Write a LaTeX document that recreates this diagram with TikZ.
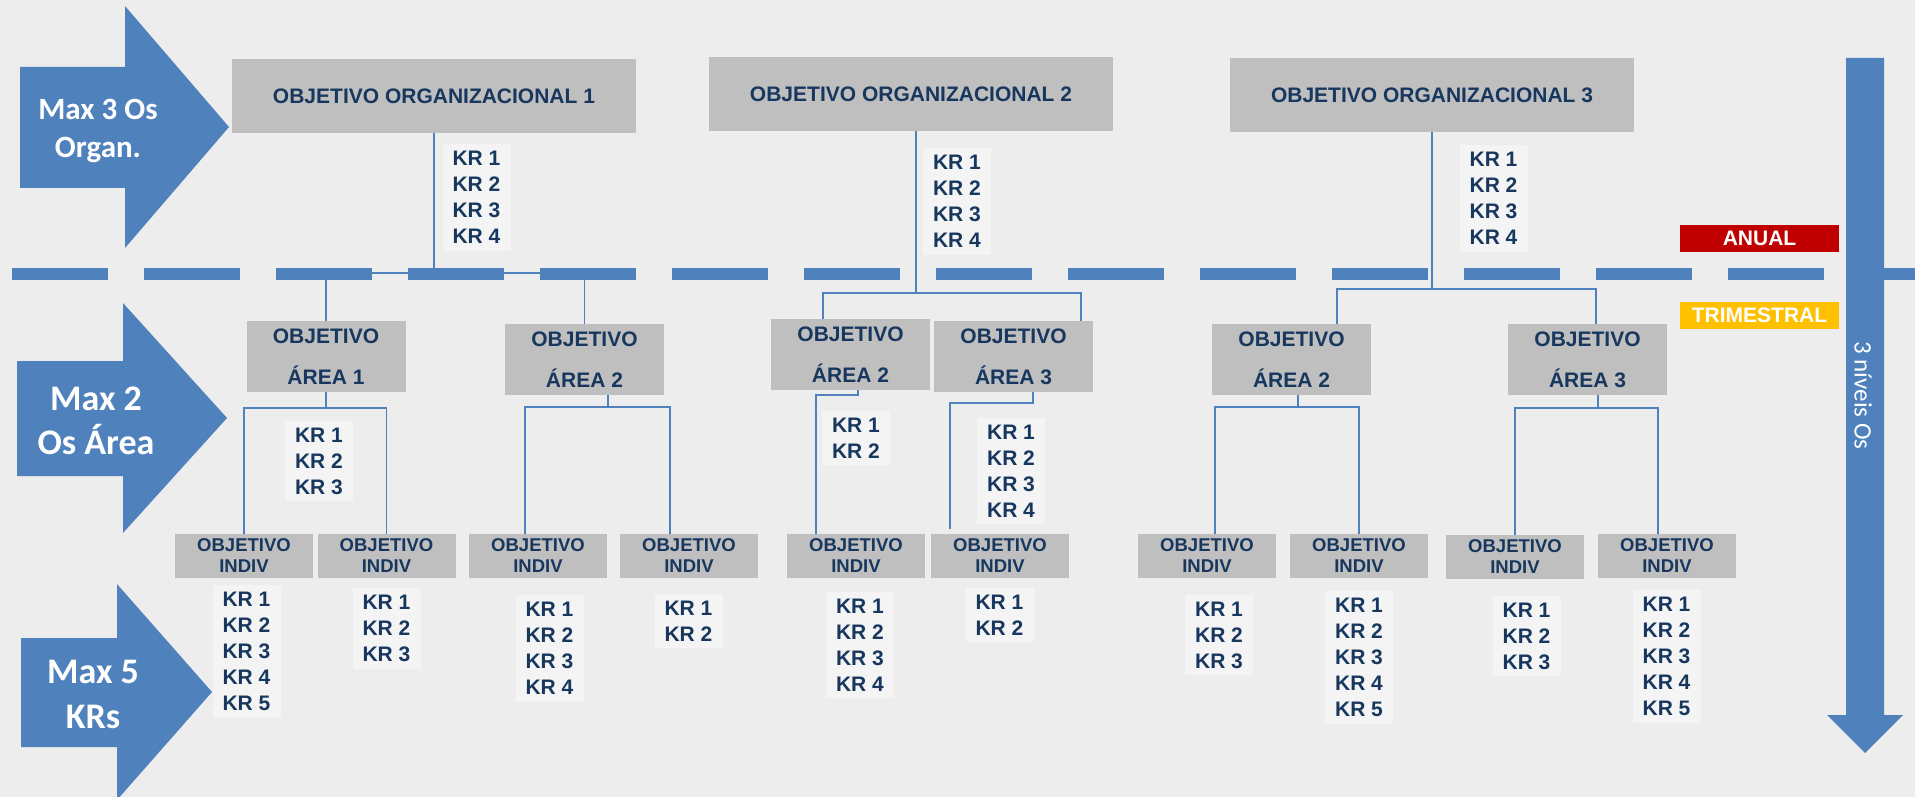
\documentclass[tikz,border=0pt]{standalone}
\usepackage{fontspec}
\setmainfont{Liberation Sans}
\newfontfamily\calib{Carlito}
\usetikzlibrary{calc}
\definecolor{cBg}{HTML}{EDEDED}
\definecolor{cBlue}{HTML}{4F81BD}
\definecolor{cGray}{HTML}{BFBFBF}
\definecolor{cKr}{HTML}{F4F4F4}
\definecolor{cNavy}{HTML}{17375E}
\definecolor{cAnual}{HTML}{C00000}
\definecolor{cTrim}{HTML}{FFC000}
\pgfdeclarelayer{bglayer}
\pgfdeclarelayer{connlayer}
\pgfsetlayers{bglayer,connlayer,main}
\tikzset{
 orgbox/.style={fill=cGray, minimum width=404pt, minimum height=74pt, inner sep=0pt, font=\bfseries\fontsize{21}{25}\selectfont, text=cNavy},
 areabox/.style={fill=cGray, minimum width=159pt, minimum height=71pt, inner sep=0pt, align=center, font=\bfseries\fontsize{21}{41}\selectfont, text=cNavy},
 indbox/.style={fill=cGray, minimum width=138pt, minimum height=44pt, inner sep=0pt, align=center, font=\bfseries\fontsize{18.5}{21}\selectfont, text=cNavy},
 krbox/.style={fill=cKr, minimum width=68pt, inner xsep=0pt, inner ysep=7pt, align=left, font=\bfseries\fontsize{21}{26}\selectfont, text=cNavy},
 conn/.style={draw=cBlue, line width=1.6pt},
 tagbox/.style={minimum width=159pt, minimum height=27pt, inner sep=0pt, text=white, font=\bfseries\fontsize{21}{25}\selectfont},
 arrowlabel/.style={text=white, font=\calib\bfseries\fontsize{31}{38}\selectfont, anchor=base, inner sep=0pt},
 biglabel/.style={arrowlabel, font=\calib\bfseries\fontsize{36}{44}\selectfont},
}
\begin{document}
\begin{tikzpicture}[x=1pt,y=-1pt]
\useasboundingbox (0,0) rectangle (1915,797);
\begin{pgfonlayer}{bglayer}
\fill[cBg] (0,0) rectangle (1915,797);
\fill[cBlue] (20,67) -- (125,67) -- (125,6) -- (229,127) -- (125,248) -- (125,188) -- (20,188) -- cycle;
\fill[cBlue] (17,361) -- (123,361) -- (123,303) -- (227,418) -- (123,533) -- (123,476) -- (17,476) -- cycle;
\fill[cBlue] (21,638) -- (117,638) -- (117,584) -- (212,692) -- (117,800) -- (117,747) -- (21,747) -- cycle;
\fill[cBlue] (1846,58) -- (1884,58) -- (1884,715) -- (1903,715) -- (1865,753) -- (1827,715) -- (1846,715) -- cycle;
\end{pgfonlayer}

% arrow labels
\node[arrowlabel] (l1a) at (98,120) {Max 3 Os};
\node[arrowlabel] (l1b) at (98,157.5) {Organ.};
\node[biglabel] (l2a) at (96,410.5) {Max 2};
\node[biglabel] (l2b) at (96,454.5) {Os Área};
\node[biglabel] (l3a) at (93,683.5) {Max 5};
\node[biglabel] (l3b) at (93,728.5) {KRs};
\node[rotate=-90, text=white, font=\calib\fontsize{25}{30}\selectfont, inner sep=0pt] (lv) at (1863,395.5) {3 níveis Os};

% organisational objectives
\node[orgbox] (o1) at (434,96) {OBJETIVO ORGANIZACIONAL 1};
\node[orgbox] (o2) at (911,94) {OBJETIVO ORGANIZACIONAL 2};
\node[orgbox] (o3) at (1432,95) {OBJETIVO ORGANIZACIONAL 3};

% area objectives
\node[areabox] (a1) at (326,356.5) {OBJETIVO\\ÁREA 1};
\node[areabox] (a2) at (584.5,359.5) {OBJETIVO\\ÁREA 2};
\node[areabox] (b2) at (850.5,354.5) {OBJETIVO\\ÁREA 2};
\node[areabox] (b3) at (1013.5,356.5) {OBJETIVO\\ÁREA 3};
\node[areabox] (c2) at (1291.5,359.5) {OBJETIVO\\ÁREA 2};
\node[areabox] (c3) at (1587.5,359.5) {OBJETIVO\\ÁREA 3};

% individual objectives
\node[indbox] (i1) at (244,556) {OBJETIVO\\INDIV};
\node[indbox] (i2) at (386.5,556) {OBJETIVO\\INDIV};
\node[indbox] (i3) at (538,556) {OBJETIVO\\INDIV};
\node[indbox] (i4) at (689,556) {OBJETIVO\\INDIV};
\node[indbox] (i5) at (856,556) {OBJETIVO\\INDIV};
\node[indbox] (i6) at (1000,556) {OBJETIVO\\INDIV};
\node[indbox] (i7) at (1207,556) {OBJETIVO\\INDIV};
\node[indbox] (i8) at (1359,556) {OBJETIVO\\INDIV};
\node[indbox] (i9) at (1515,557) {OBJETIVO\\INDIV};
\node[indbox] (i10) at (1667,556) {OBJETIVO\\INDIV};

% key results
\node[krbox] (k1) at (476.5,197.5) {KR 1\\KR 2\\KR 3\\KR 4};
\node[krbox] (k2) at (957,201.5) {KR 1\\KR 2\\KR 3\\KR 4};
\node[krbox] (k3) at (1493.5,198.5) {KR 1\\KR 2\\KR 3\\KR 4};
\node[krbox] (k4) at (319,461) {KR 1\\KR 2\\KR 3};
\node[krbox] (k5) at (856,438) {KR 1\\KR 2};
\node[krbox] (k6) at (1011,471) {KR 1\\KR 2\\KR 3\\KR 4};
\node[krbox] (k7) at (246.5,651.5) {KR 1\\KR 2\\KR 3\\KR 4\\KR 5};
\node[krbox] (k8) at (386.5,628.5) {KR 1\\KR 2\\KR 3};
\node[krbox] (k9) at (549.5,648.5) {KR 1\\KR 2\\KR 3\\KR 4};
\node[krbox] (k10) at (688.5,621) {KR 1\\KR 2};
\node[krbox] (k11) at (860,645) {KR 1\\KR 2\\KR 3\\KR 4};
\node[krbox] (k12) at (999.5,615) {KR 1\\KR 2};
\node[krbox] (k13) at (1219,635) {KR 1\\KR 2\\KR 3};
\node[krbox] (k14) at (1359,657.5) {KR 1\\KR 2\\KR 3\\KR 4\\KR 5};
\node[krbox] (k15) at (1526.5,636) {KR 1\\KR 2\\KR 3};
\node[krbox] (k16) at (1666.5,656.5) {KR 1\\KR 2\\KR 3\\KR 4\\KR 5};

% tags
\node[tagbox, fill=cAnual] (an) at (1759.5,238.5) {ANUAL};
\node[tagbox, fill=cTrim] (tr) at (1759.5,315.5) {TRIMESTRAL};

% helper coordinates
\coordinate (h1) at (0,273);
\coordinate (h2) at (0,293);
\coordinate (h3) at (0,289);
\coordinate (h4) at (0,408);
\coordinate (h5) at (0,407);
\coordinate (h6) at (0,395);
\coordinate (h7) at (0,403);
\coordinate (o2c) at ([xshift=5pt]o2.south);
\coordinate (b2n) at ([xshift=-27.5pt]b2.north);
\coordinate (b3n) at ([xshift=67.5pt]b3.north);
\coordinate (c2n) at ([xshift=45.5pt]c2.north);
\coordinate (c3n) at ([xshift=8.5pt]c3.north);
\coordinate (a2s) at ([xshift=23.5pt]a2.south);
\coordinate (i3n) at ([xshift=-13pt]i3.north);
\coordinate (i4n) at ([xshift=-19pt]i4.north);
\coordinate (b2s) at ([xshift=7.5pt]b2.south);
\coordinate (i5n) at ([xshift=-40pt]i5.north);
\coordinate (b3s) at ([xshift=19.5pt]b3.south);
\coordinate (i6n) at ([xshift=-50pt,yshift=5pt]i6.north);
\coordinate (c2s) at ([xshift=6.5pt]c2.south);
\coordinate (i7n) at ([xshift=8pt]i7.north);
\coordinate (c3s) at ([xshift=10.5pt]c3.south);
\coordinate (i10n) at ([xshift=-9pt]i10.north);

\begin{pgfonlayer}{connlayer}
\draw[conn] (o1.south) -- (o1.south |- h1);
\draw[conn] (a1.north) |- (o1.south |- h1) -| (a2.north);
\draw[conn] (o2c) -- (o2c |- h2);
\draw[conn] (b2n) |- (o2c |- h2) -| (b3n);
\draw[conn] (o3.south) -- (o3.south |- h3);
\draw[conn] (c2n) |- (o3.south |- h3) -| (c3n);
\draw[conn] (a1.south) -- (a1.south |- h4);
\draw[conn] (i1.north) |- (a1.south |- h4) -| (i2.north);
\draw[conn] (a2s) -- (a2s |- h5);
\draw[conn] (i3n) |- (a2s |- h5) -| (i4n);
\draw[conn] (b2s) |- (i5n |- h6) -- (i5n);
\draw[conn] (b3s) |- (i6n |- h7) -- (i6n);
\draw[conn] (c2s) -- (c2s |- h5);
\draw[conn] (i7n) |- (c2s |- h5) -| (i8.north);
\draw[conn] (c3s) -- (c3s |- h4);
\draw[conn] (i9.north) |- (c3s |- h4) -| (i10n);
\end{pgfonlayer}

% dashed timeline
\foreach \k in {0,...,13} \fill[cBlue] ({12+132*\k},267.5) rectangle ({108+132*\k},279.5);
\fill[cBlue] (1860,267.5) rectangle (1915,279.5);
\end{tikzpicture}
\end{document}
